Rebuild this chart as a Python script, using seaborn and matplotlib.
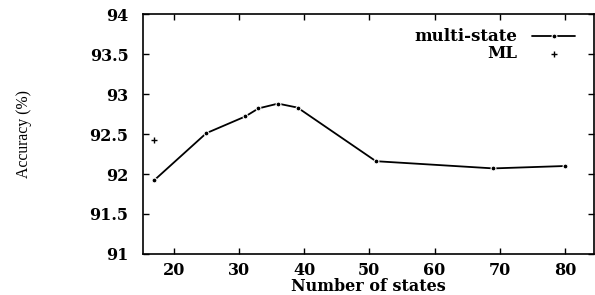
import numpy as np
import pandas as pd
import matplotlib
matplotlib.use("Agg")
import matplotlib.pyplot as plt
import seaborn as sns

# data
n_states = [17, 25, 31, 33, 36, 39, 51, 69, 80]
accuracy = [91.92, 92.51, 92.72, 92.82, 92.88, 92.83, 92.16, 92.07, 92.10]
ml_states = [17]
ml_accuracy = [92.42]

x_ticks = [20, 30, 40, 50, 60, 70, 80]
y_ticks = [91, 91.5, 92, 92.5, 93, 93.5, 94]
y_tick_labels = ["91", "91.5", "92", "92.5", "93", "93.5", "94"]

df = pd.DataFrame({"states": n_states, "acc": accuracy})
df_ml = pd.DataFrame({"states": ml_states, "acc": ml_accuracy})

sns.set_theme(style="ticks", rc={"text.color": "black", "axes.labelcolor": "black",
                                 "xtick.color": "black", "ytick.color": "black",
                                 "axes.edgecolor": "black"})
plt.rcParams["font.family"] = ["DejaVu Serif"]

fig, ax = plt.subplots(figsize=(5.95, 2.95), dpi=100)
fig.subplots_adjust(left=0.2403, right=0.998, top=0.9525, bottom=0.139)

sns.lineplot(data=df, x="states", y="acc", ax=ax, color="black", lw=1.3,
             marker="o", markersize=3.5, label="multi-state")
sns.scatterplot(data=df_ml, x="states", y="acc", ax=ax, color="black",
                marker="+", s=25, linewidth=1.0, label="ML")

ax.set_xlim(15.3, 84.4)
ax.set_ylim(91, 94)
ax.set_xticks(x_ticks)
ax.set_yticks(y_ticks)
ax.set_yticklabels(y_tick_labels)
ax.tick_params(direction="in", length=4, width=1, top=True, right=True,
               labelsize=11.5)
ax.tick_params(axis="y", pad=10.5)
ax.tick_params(axis="x", pad=6)
for lab in ax.get_xticklabels() + ax.get_yticklabels():
    lab.set_fontweight("bold")

for s in ax.spines.values():
    s.set_linewidth(1.2)

ax.set_xlabel("Number of states", fontsize=11.5, fontweight="bold", labelpad=-1)
ax.set_ylabel("Accuracy (%)", fontsize=11.3, family="Liberation Serif")
ax.yaxis.set_label_coords(-0.247, 0.5)

leg = ax.legend(loc="upper right", frameon=False, markerfirst=False,
                prop={"weight": "bold", "size": 12}, handlelength=2.6,
                handletextpad=0.9, borderaxespad=0.0, labelspacing=0.0,
                bbox_to_anchor=(0.974, 0.968))
for t in leg.get_texts():
    t.set_ha("right")

fig.savefig("out.png", dpi=100)
